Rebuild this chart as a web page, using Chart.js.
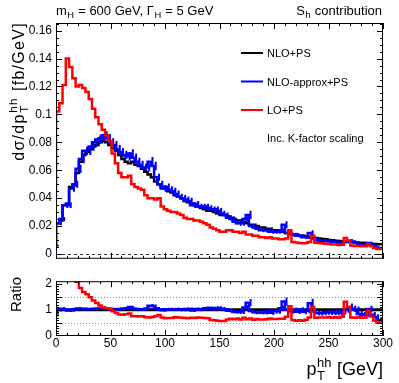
<!DOCTYPE html>
<html>
<head>
<meta charset="utf-8">
<script src="https://cdn.jsdelivr.net/npm/chart.js@4.4.0/dist/chart.umd.min.js"></script>
<style>
  html, body { margin: 0; padding: 0; background: #fff; }
  #wrap { position: relative; width: 399px; height: 383px; }
  canvas { position: absolute; left: 0; }
  #top { top: 0; }
  #bot { top: 270px; }
</style>
</head>
<body>
<div id="wrap">
  <canvas id="top" width="399" height="270"></canvas>
  <canvas id="bot" width="399" height="113"></canvas>
</div>
<script>
// pT(hh) histograms, 3 GeV bins from 0 to 300 GeV
const binWidth = 3;

const blackNLO = [
  0.007, 0.022, 0.024, 0.035, 0.036, 0.048, 0.049, 0.058, 0.066, 0.071,
  0.073, 0.075, 0.077, 0.078, 0.080, 0.081, 0.080, 0.078, 0.076, 0.074,
  0.071, 0.068, 0.066, 0.065, 0.066, 0.064, 0.063, 0.061, 0.059, 0.057,
  0.055, 0.052, 0.050, 0.048, 0.047, 0.045, 0.044, 0.042, 0.041, 0.040,
  0.038, 0.037, 0.036, 0.035, 0.034, 0.033, 0.032, 0.031, 0.031, 0.030,
  0.029, 0.028, 0.028, 0.027, 0.026, 0.025, 0.024, 0.024, 0.023, 0.022,
  0.021, 0.021, 0.020, 0.019, 0.019, 0.018, 0.018, 0.017, 0.017, 0.016,
  0.016, 0.015, 0.015, 0.014, 0.014, 0.013, 0.013, 0.0125, 0.012, 0.0118,
  0.0115, 0.011, 0.0108, 0.0105, 0.0100, 0.0098, 0.0095, 0.0093, 0.0090, 0.0088,
  0.0086, 0.0085, 0.0083, 0.0081, 0.0080, 0.0078, 0.0076, 0.0074, 0.0072, 0.0070
];

const blueApprox = [
  0.006, 0.022, 0.025, 0.035, 0.035, 0.047, 0.050, 0.061, 0.068, 0.074,
  0.074, 0.077, 0.080, 0.082, 0.083, 0.085, 0.083, 0.080, 0.078, 0.075,
  0.073, 0.071, 0.070, 0.072, 0.069, 0.066, 0.064, 0.062, 0.062, 0.066,
  0.063, 0.055, 0.050, 0.047, 0.048, 0.046, 0.045, 0.043, 0.041, 0.040,
  0.039, 0.038, 0.035, 0.036, 0.034, 0.034, 0.034, 0.033, 0.032, 0.032,
  0.031, 0.029, 0.028, 0.026, 0.025, 0.023, 0.022, 0.022, 0.025, 0.028,
  0.020, 0.019, 0.018, 0.017, 0.017, 0.017, 0.016, 0.016, 0.016, 0.017,
  0.021, 0.015, 0.014, 0.014, 0.013, 0.013, 0.012, 0.012, 0.015, 0.011,
  0.010, 0.0095, 0.0095, 0.0095, 0.0090, 0.0088, 0.0085, 0.0082, 0.0085, 0.0088,
  0.0095, 0.0088, 0.0083, 0.0068, 0.0065, 0.0065, 0.0078, 0.0060, 0.0052, 0.0042
];

const blueErr = [
  0.0008, 0.0015, 0.0015, 0.002, 0.002, 0.0025, 0.0025, 0.003, 0.003, 0.003,
  0.003, 0.003, 0.003, 0.003, 0.003, 0.003, 0.003, 0.003, 0.003, 0.003,
  0.003, 0.003, 0.003, 0.003, 0.003, 0.003, 0.0028, 0.0028, 0.0028, 0.0035,
  0.003, 0.0025, 0.0025, 0.0025, 0.0025, 0.0025, 0.0025, 0.0025, 0.0022, 0.0022,
  0.0022, 0.0022, 0.002, 0.002, 0.002, 0.002, 0.002, 0.002, 0.002, 0.002,
  0.002, 0.002, 0.0018, 0.0018, 0.0018, 0.0018, 0.0018, 0.0018, 0.002, 0.003,
  0.0015, 0.0015, 0.0015, 0.0015, 0.0015, 0.0015, 0.0015, 0.0015, 0.0015, 0.0015,
  0.0025, 0.0012, 0.0012, 0.0012, 0.0012, 0.0012, 0.0012, 0.0012, 0.002, 0.001,
  0.001, 0.001, 0.001, 0.001, 0.001, 0.001, 0.001, 0.001, 0.001, 0.001,
  0.0012, 0.001, 0.001, 0.001, 0.0008, 0.0008, 0.001, 0.0008, 0.0008, 0.0008
];

const redLO = [
  0.041, 0.102, 0.108, 0.121, 0.140, 0.134, 0.126, 0.120, 0.121, 0.119,
  0.116, 0.111, 0.104, 0.098, 0.093, 0.089, 0.085, 0.081, 0.072, 0.065,
  0.058, 0.055, 0.055, 0.056, 0.050, 0.048, 0.047, 0.046, 0.042, 0.040,
  0.040, 0.039, 0.040, 0.034, 0.032, 0.031, 0.030, 0.030, 0.029, 0.028,
  0.026, 0.025, 0.025, 0.024, 0.024, 0.023, 0.022, 0.021, 0.019, 0.018,
  0.017, 0.016, 0.016, 0.017, 0.017, 0.016, 0.016, 0.015, 0.016, 0.014,
  0.014, 0.013, 0.013, 0.012, 0.012, 0.0115, 0.012, 0.011, 0.011, 0.0105,
  0.0105, 0.011, 0.017, 0.0085, 0.0082, 0.0078, 0.0076, 0.0078, 0.0085, 0.013,
  0.0080, 0.0078, 0.0076, 0.0074, 0.0072, 0.0068, 0.0068, 0.0065, 0.0066, 0.0115,
  0.0095, 0.0060, 0.0058, 0.0058, 0.0056, 0.0055, 0.0072, 0.0055, 0.0042, 0.0036
];

const legendLabels = ['NLO+PS', 'NLO-approx+PS', 'LO+PS'];
const legendColors = ['#000000', '#0000ff', '#ff0000'];

const xTicks = [0, 50, 100, 150, 200, 250, 300];
const topYTicks = [0, 0.02, 0.04, 0.06, 0.08, 0.1, 0.12, 0.14, 0.16];
const ratioYTicks = [0, 0.5, 1, 1.5, 2];

const FONT = '"Liberation Sans", Arial, Helvetica, sans-serif';

// ratios w.r.t. NLO+PS
const ratioRed = redLO.map((v, i) => v / blackNLO[i]);
const ratioBlue = blueApprox.map((v, i) => v / blackNLO[i]);
const ratioBlack = blackNLO.map(v => v / v);
const ratioBlueErr = blueErr.map((e, i) => e / blackNLO[i]);

function toSteps(values) {
  const pts = values.map((v, i) => ({ x: i * binWidth, y: v }));
  pts.push({ x: values.length * binWidth, y: values[values.length - 1] });
  return pts;
}

function stepSet(label, values, color, width) {
  return {
    label: label,
    data: toSteps(values),
    borderColor: color,
    borderWidth: width,
    pointRadius: 0,
    stepped: 'after',
    fill: false
  };
}

function fmt(v) {
  return String(Number(v.toFixed(3)));
}

// text with sub/superscripts: {t}, {sub}, {sup}
function drawRich(ctx, segs, x, y, size, align, spacing) {
  const small = size * 0.72;
  const mainFont = size + 'px ' + FONT;
  const smallFont = small + 'px ' + FONT;
  ctx.letterSpacing = (spacing || 0) + 'px';
  const width = s => {
    if (s.t !== undefined) { ctx.font = mainFont; return ctx.measureText(s.t).width; }
    ctx.font = smallFont;
    const a = s.sub ? ctx.measureText(s.sub).width : 0;
    const b = s.sup ? ctx.measureText(s.sup).width : 0;
    return Math.max(a, b) + 1;
  };
  const total = segs.reduce((acc, s) => acc + width(s), 0);
  let cx = align === 'right' ? x - total : x;
  ctx.textAlign = 'left';
  ctx.textBaseline = 'alphabetic';
  ctx.fillStyle = '#000';
  segs.forEach(s => {
    const w = width(s);
    if (s.t !== undefined) {
      ctx.font = mainFont;
      ctx.fillText(s.t, cx, y);
    } else {
      ctx.font = smallFont;
      if (s.sub) ctx.fillText(s.sub, cx + 0.5, y + size * 0.28);
      if (s.sup) ctx.fillText(s.sup, cx + 0.5, y - size * 0.42);
    }
    cx += w;
  });
  ctx.letterSpacing = '0px';
}

function drawFrame(chart, yStep, yPerMajor, yMaxIndex, xLen, yLen) {
  const { ctx, chartArea: a, scales } = chart;
  const x = scales.x, y = scales.y;
  ctx.save();
  ctx.strokeStyle = '#000';
  ctx.lineWidth = 1;
  ctx.setLineDash([]);
  ctx.beginPath();
  for (let v = 0; v <= 300; v += 10) {
    const px = Math.round(x.getPixelForValue(v)) + 0.5;
    const L = v % 50 === 0 ? xLen : xLen / 2;
    ctx.moveTo(px, a.bottom); ctx.lineTo(px, a.bottom - L);
    ctx.moveTo(px, a.top); ctx.lineTo(px, a.top + L);
  }
  for (let k = 0; k <= yMaxIndex; k++) {
    const py = Math.round(y.getPixelForValue(k * yStep)) + 0.5;
    if (py < a.top || py > a.bottom) continue;
    const L = k % yPerMajor === 0 ? yLen : yLen / 2;
    ctx.moveTo(a.left, py); ctx.lineTo(a.left + L, py);
    ctx.moveTo(a.right, py); ctx.lineTo(a.right - L, py);
  }
  ctx.stroke();
  ctx.strokeRect(a.left + 0.5, a.top + 0.5, a.right - a.left - 1, a.bottom - a.top - 1);
  ctx.restore();
}

function drawErrors(chart, values, errs, color) {
  const { ctx, scales: { x, y }, chartArea: a } = chart;
  ctx.save();
  ctx.beginPath();
  ctx.rect(a.left, a.top, a.right - a.left, a.bottom - a.top);
  ctx.clip();
  ctx.strokeStyle = color;
  ctx.lineWidth = 2;
  ctx.beginPath();
  values.forEach((v, i) => {
    const px = x.getPixelForValue((i + 0.5) * binWidth);
    ctx.moveTo(px, y.getPixelForValue(v - errs[i]));
    ctx.lineTo(px, y.getPixelForValue(v + errs[i]));
  });
  ctx.stroke();
  ctx.restore();
}

const topDecor = {
  id: 'topDecor',
  beforeDatasetsDraw(chart) {
    const { ctx, chartArea: a, scales: { y } } = chart;
    const py = Math.round(y.getPixelForValue(0)) + 0.5;
    ctx.save();
    ctx.strokeStyle = '#333';
    ctx.lineWidth = 1;
    ctx.setLineDash([3, 3]);
    ctx.beginPath();
    ctx.moveTo(a.left, py); ctx.lineTo(a.right, py);
    ctx.stroke();
    ctx.restore();
  },
  afterDatasetDraw(chart, args) {
    if (args.meta.label === legendLabels[1]) drawErrors(chart, blueApprox, blueErr, '#0000ff');
  },
  afterDatasetsDraw(chart) {
    drawFrame(chart, 0.005, 4, 33, 6, 6);
  },
  afterDraw(chart) {
    const ctx = chart.ctx;
    ctx.save();
    drawRich(ctx, [{ t: 'm' }, { sub: 'H' }, { t: ' = 600 GeV, \u0393' }, { sub: 'H' }, { t: ' = 5 GeV' }], 56, 14.5, 13, 'left');
    drawRich(ctx, [{ t: 'S' }, { sub: 'h' }, { t: ' contribution' }], 382, 14.5, 13, 'right');
    // legend
    const legendY = [53, 81.5, 110];
    legendLabels.forEach((lab, i) => {
      ctx.strokeStyle = legendColors[i];
      ctx.lineWidth = 2;
      ctx.beginPath();
      ctx.moveTo(241, legendY[i]); ctx.lineTo(263, legendY[i]);
      ctx.stroke();
      drawRich(ctx, [{ t: lab }], 267, legendY[i] + 4, 11, 'left');
    });
    drawRich(ctx, [{ t: 'Inc. K-factor scaling' }], 267, 142, 11, 'left');
    // y title
    ctx.translate(24, 22);
    ctx.rotate(-Math.PI / 2);
    drawRich(ctx, [{ t: 'd\u03c3/dp' }, { sub: 'T', sup: 'hh' }, { t: ' [fb/GeV]' }], 0, 0, 16, 'right', 1.3);
    ctx.restore();
  }
};

const botDecor = {
  id: 'botDecor',
  beforeDatasetsDraw(chart) {
    const { ctx, chartArea: a, scales: { y } } = chart;
    ctx.save();
    ctx.strokeStyle = '#888';
    ctx.lineWidth = 1;
    ctx.setLineDash([1, 2]);
    ctx.beginPath();
    [0.5, 1, 1.5].forEach(v => {
      const py = Math.round(y.getPixelForValue(v)) + 0.5;
      ctx.moveTo(a.left, py); ctx.lineTo(a.right, py);
    });
    ctx.stroke();
    ctx.restore();
  },
  afterDatasetDraw(chart, args) {
    if (args.meta.label === legendLabels[1]) drawErrors(chart, ratioBlue, ratioBlueErr, '#0000ff');
  },
  afterDatasetsDraw(chart) {
    drawFrame(chart, 0.1, 5, 20, 6, 6);
  },
  afterDraw(chart) {
    const ctx = chart.ctx;
    ctx.save();
    drawRich(ctx, [{ t: 'p' }, { sub: 'T', sup: 'hh' }, { t: ' [GeV]' }], 383, 105, 18, 'right');
    ctx.translate(21, 7);
    ctx.rotate(-Math.PI / 2);
    drawRich(ctx, [{ t: 'Ratio' }], 0, 0, 15, 'right');
    ctx.restore();
  }
};

const tickFont = { family: FONT, size: 12 };

new Chart(document.getElementById('top'), {
  type: 'line',
  data: {
    datasets: [
      stepSet(legendLabels[2], redLO, '#ff0000', 2.5),
      stepSet(legendLabels[1], blueApprox, '#0000ff', 2.5),
      stepSet(legendLabels[0], blackNLO, '#000000', 2.5)
    ]
  },
  options: {
    responsive: false,
    animation: false,
    layout: { padding: { left: 0, right: 16, top: 23, bottom: 3 } },
    plugins: { legend: { display: false }, tooltip: { enabled: false } },
    scales: {
      x: {
        type: 'linear', min: 0, max: 300,
        grid: { display: false, drawTicks: false },
        border: { display: false },
        ticks: { display: false },
        afterFit: s => { s.height = 0; }
      },
      y: {
        min: -0.00346, max: 0.1655,
        grid: { display: false, drawTicks: false },
        border: { display: false },
        afterBuildTicks: s => { s.ticks = topYTicks.map(v => ({ value: v })); },
        ticks: { padding: 4, color: '#000', font: tickFont, callback: v => fmt(v) },
        afterFit: s => { s.width = 56; }
      }
    }
  },
  plugins: [topDecor]
});

new Chart(document.getElementById('bot'), {
  type: 'line',
  data: {
    datasets: [
      stepSet(legendLabels[2], ratioRed, '#ff0000', 2.5),
      stepSet(legendLabels[1], ratioBlue, '#0000ff', 2.5),
      stepSet(legendLabels[0], ratioBlack, '#000000', 3)
    ]
  },
  options: {
    responsive: false,
    animation: false,
    layout: { padding: { left: 0, right: 16, top: 3, bottom: 0 } },
    plugins: { legend: { display: false }, tooltip: { enabled: false } },
    scales: {
      x: {
        type: 'linear', min: 0, max: 300,
        grid: { display: false, drawTicks: false },
        border: { display: false },
        afterBuildTicks: s => { s.ticks = xTicks.map(v => ({ value: v })); },
        ticks: { padding: 0, color: '#000', font: tickFont, maxRotation: 0, autoSkip: false, callback: v => fmt(v) },
        afterFit: s => { s.height = 47; }
      },
      y: {
        min: 0, max: 2.09,
        grid: { display: false, drawTicks: false },
        border: { display: false },
        afterBuildTicks: s => { s.ticks = ratioYTicks.map(v => ({ value: v })); },
        ticks: { padding: 4, color: '#000', font: tickFont, callback: v => fmt(v) },
        afterFit: s => { s.width = 56; }
      }
    }
  },
  plugins: [botDecor]
});
</script>
</body>
</html>
